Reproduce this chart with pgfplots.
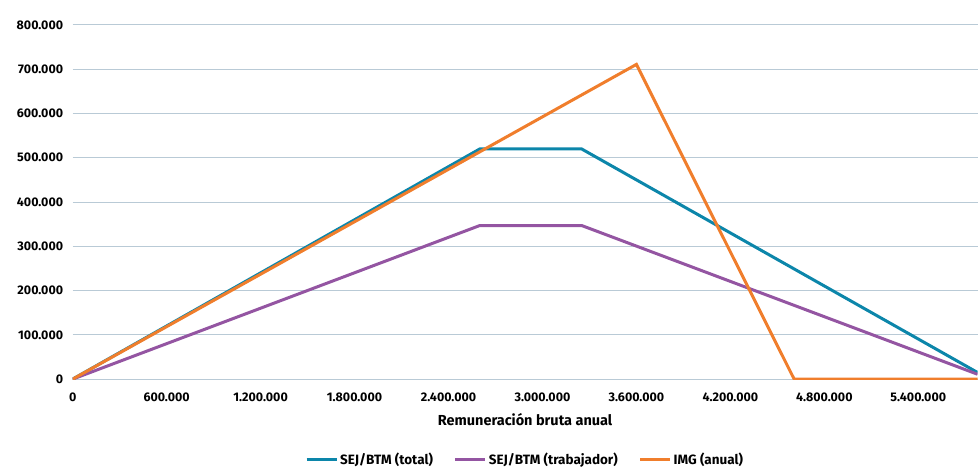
\documentclass[border=0pt]{standalone}
\usepackage{fontspec}
\setmainfont{Fira Sans}
\usepackage{pgfplots}
\pgfplotsset{compat=1.18}
\definecolor{sejblue}{HTML}{0C86AA}
\definecolor{sejpurple}{HTML}{9455A2}
\definecolor{imgorange}{HTML}{F07E2C}
\definecolor{gridcol}{HTML}{B9CAD6}

\begin{document}
\begin{tikzpicture}
\begin{axis}[
 scale only axis,
 width=905.3pt,height=354.3pt,
 xmin=0,xmax=5778000,ymin=0,ymax=800000,
 axis line style={draw=none},
 major tick length=0pt,
 xtick={0,600000,1200000,1800000,2400000,3000000,3600000,4200000,4800000,5400000},
 ytick={0,100000,200000,300000,400000,500000,600000,700000,800000},
 scaled ticks=false,
 /pgf/number format/.cd,fixed,1000 sep={.},assume math mode=true,
 /pgfplots/.cd,
 ymajorgrids,
 major grid style={draw=gridcol,line width=1pt},
 tick label style={font=\fontsize{12.5}{14}\selectfont\bfseries},
 xticklabel style={yshift=-10pt},
 yticklabel style={xshift=-6pt},
 xlabel={Remuneración bruta anual},
 xlabel style={font=\fontsize{14.5}{16}\selectfont\bfseries,
   at={(axis description cs:0.5,-0.115)},anchor=center},
 legend columns=3,
 legend style={draw=none,font=\fontsize{13.5}{15}\selectfont\bfseries,
   at={(axis description cs:0.5,-0.228)},anchor=center,
   /tikz/every even column/.append style={column sep=19pt}},
 legend image code/.code={\draw[#1,line width=3pt] (0pt,0pt) -- (30pt,0pt);},
 every axis plot/.append style={line width=3pt,line join=miter},
]
\addplot[sejblue] coordinates {
 (0,0) (2600000,520000) (3250000,520000) (5778000,15000)};
\addplot[sejpurple] coordinates {
 (0,0) (2600000,347000) (3250000,347000) (5778000,11000)};
\addplot[imgorange] coordinates {
 (0,0) (3600000,711000) (4607000,0) (5778000,0)};
\legend{SEJ/BTM (total),SEJ/BTM (trabajador),IMG (anual)}
\end{axis}
\path[use as bounding box] (current axis.south west) ++(-72.7pt,-88.7pt)
  rectangle ([yshift=25pt]current axis.north east);
\end{tikzpicture}
\end{document}
